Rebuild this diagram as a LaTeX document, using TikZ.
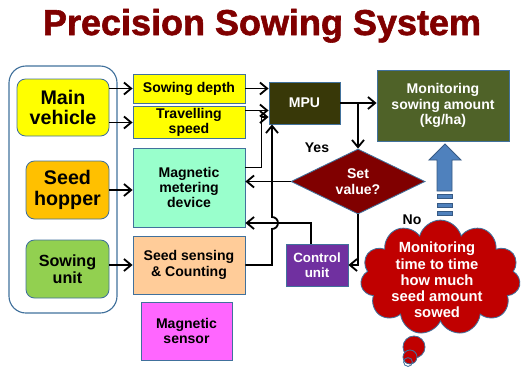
\documentclass[tikz,border=0pt]{standalone}
\usepackage{fontspec}
\setmainfont{Liberation Sans}
\newfontfamily\titlefont{Liberation Sans}[BoldFeatures={FakeBold=1.6}]
\usepackage{tikz}
\usetikzlibrary{shapes.geometric, shapes.symbols, arrows.meta, positioning, calc}
\definecolor{titlecolor}{RGB}{128, 0, 0}
\definecolor{edgecolor}{RGB}{65, 113, 156}
\definecolor{vehiclecolor}{RGB}{255, 255, 0}
\definecolor{hoppercolor}{RGB}{255, 192, 0}
\definecolor{unitcolor}{RGB}{146, 208, 80}
\definecolor{meteringcolor}{RGB}{153, 255, 204}
\definecolor{sensingcolor}{RGB}{255, 204, 153}
\definecolor{sensorcolor}{RGB}{255, 102, 255}
\definecolor{mpucolor}{RGB}{56, 56, 8}
\definecolor{monitorcolor}{RGB}{79, 98, 40}
\definecolor{decisioncolor}{RGB}{128, 0, 0}
\definecolor{controlcolor}{RGB}{112, 48, 160}
\definecolor{cloudcolor}{RGB}{192, 0, 0}
\definecolor{bigarrowcolor}{RGB}{79, 129, 189}

\begin{document}
\begin{tikzpicture}[
    block/.style={draw=edgecolor, line width=0.6pt, minimum width=2.8cm, align=center, inner sep=1pt, font=\fontsize{10}{11}\selectfont\bfseries},
    source/.style={block, rounded corners=6pt, minimum width=2.075cm, minimum height=1.45cm, font=\fontsize{14}{15}\selectfont\bfseries},
    whitebox/.style={block, text=white},
    link/.style={line width=1.3pt, -{Straight Barb[length=1.8mm, width=3mm]}},
]
    \useasboundingbox (0, 0) rectangle (13.025, -9.225);

    % Title
    \node[font=\titlefont\fontsize{25.6}{28}\selectfont\bfseries, text=titlecolor, anchor=base] (title) at (6.55, -0.875) {Precision Sowing System};

    % Machine group
    \node[draw=edgecolor, line width=0.8pt, rounded corners=12pt, minimum width=2.7cm, minimum height=6.175cm] (machine) at (1.575, -4.7375) {};
    \node[source, fill=vehiclecolor, minimum width=2.3cm, minimum height=1.425cm, font=\fontsize{14}{14.5}\selectfont\bfseries] (vehicle) at (1.575, -2.6875) {Main\\vehicle};
    \node[source, fill=hoppercolor] (hopper) at (1.6875, -4.75) {Seed\\hopper};
    \node[source, fill=unitcolor, font=\fontsize{11.5}{12.5}\selectfont\bfseries] (sowunit) at (1.6875, -6.725) {Sowing\\unit};

    % Sensing blocks
    \node[block, fill=vehiclecolor, minimum height=0.725cm] (depth) at (4.725, -2.2125) {Sowing depth};
    \node[block, fill=vehiclecolor, minimum height=0.725cm] (speed) at (4.725, -3.0625) {Travelling\\speed};
    \node[block, fill=meteringcolor, minimum height=1.975cm] (metering) at (4.725, -4.6875) {Magnetic\\metering\\device};
    \node[block, fill=sensingcolor, minimum height=1.45cm] (sensing) at (4.725, -6.625) {Seed sensing\\\& Counting};
    \node[block, fill=sensorcolor, minimum width=2.275cm, minimum height=1.45cm] (magsensor) at (4.6625, -8.275) {Magnetic\\sensor};

    % Processing
    \node[whitebox, fill=mpucolor, minimum width=1.775cm, minimum height=1.05cm] (mpu) at (7.6125, -2.575) {MPU};
    \node[whitebox, fill=monitorcolor, minimum width=3.3cm, minimum height=1.775cm] (monitor) at (11.075, -2.6375) {Monitoring\\sowing amount\\(kg/ha)};
    \node[diamond, aspect=2.06, draw=edgecolor, line width=0.6pt, fill=decisioncolor, text=white, align=center, inner sep=0pt, minimum width=3.35cm, minimum height=1.625cm, font=\fontsize{10}{11.5}\selectfont\bfseries] (setvalue) at (8.95, -4.5375) {Set\\value?};
    \node[whitebox, fill=controlcolor, minimum width=1.55cm, minimum height=1.05cm, font=\fontsize{9.5}{10.5}\selectfont\bfseries] (control) at (7.925, -6.625) {Control\\unit};
    \node[font=\fontsize{10}{11}\selectfont\bfseries] (yes) at (7.925, -3.7) {Yes};
    \node[font=\fontsize{10}{11}\selectfont\bfseries] (no) at (10.3, -5.5) {No};

    % Thought cloud
    \node[cloud, cloud puffs=11, aspect=1.4, draw=edgecolor, line width=0.6pt, fill=cloudcolor, inner sep=0pt, minimum width=4cm, minimum height=2.875cm] (cloud) at (11.01, -6.94) {};
    \node[text=white, align=center, font=\fontsize{10.5}{11.5}\selectfont\bfseries] (cloudtext) at (10.925, -7.0) {Monitoring\\time to time\\how much\\seed amount\\sowed};
    \draw[edgecolor, line width=0.6pt, fill=cloudcolor] (10.35, -8.675) circle (0.275);
    \draw[edgecolor, line width=0.6pt, fill=cloudcolor] (10.25, -8.925) circle (0.175);
    \draw[edgecolor, line width=0.6pt] (10.2, -9.05) circle (0.11);

    % Big arrow
    \draw[bigarrowcolor!70!black, line width=0.6pt, fill=bigarrowcolor] (10.925, -4.775) -- (10.925, -4.0) -- (10.725, -4.0) -- (11.125, -3.6) -- (11.525, -4.0) -- (11.3, -4.0) -- (11.3, -4.775) -- cycle;
    \foreach \y in {-4.85, -5.075, -5.275}
        \draw[bigarrowcolor!70!black, line width=0.5pt, fill=bigarrowcolor] (10.925, \y) rectangle (11.3, \y - 0.1);

    % Connectors
    \coordinate (hop) at (6.8, -5.575);
    \draw[link] (vehicle.east |- depth.west) -- (depth.west);
    \draw[link] (vehicle.east |- speed.west) -- (speed.west);
    \draw[link] (hopper.east) -- (hopper.east -| metering.west);
    \draw[link] ([yshift=0.1cm]sowunit.east) -- ([yshift=0.1cm]sowunit.east -| sensing.west);
    \draw[link] (depth.east) -- (depth.east -| mpu.west);
    \draw[link] ([yshift=0.3cm]speed.east) -- ([yshift=0.3cm]speed.east -| mpu.west);
    \draw[link] ([yshift=0.5cm]metering.east) -- ++(0.4, 0) |- ([yshift=-0.35cm]mpu.west);
    \draw[link] (sensing.east) -- (sensing.east -| hop) -- ([yshift=-0.15cm]hop) arc[start angle=-90, end angle=90, radius=0.15cm] -- (hop |- mpu.south);
    \draw[link] ([xshift=-0.15cm]control.north) |- (metering.east |- hop);
    \draw[link] (mpu.east) -- (mpu.east -| monitor.west);
    \draw[link] (mpu.east -| setvalue.north) -- (setvalue.north);
    \draw[link] (setvalue.west) -- (setvalue.west -| metering.east);
    \draw[link] (setvalue.south) |- (control.east);

\end{tikzpicture}
\end{document}
